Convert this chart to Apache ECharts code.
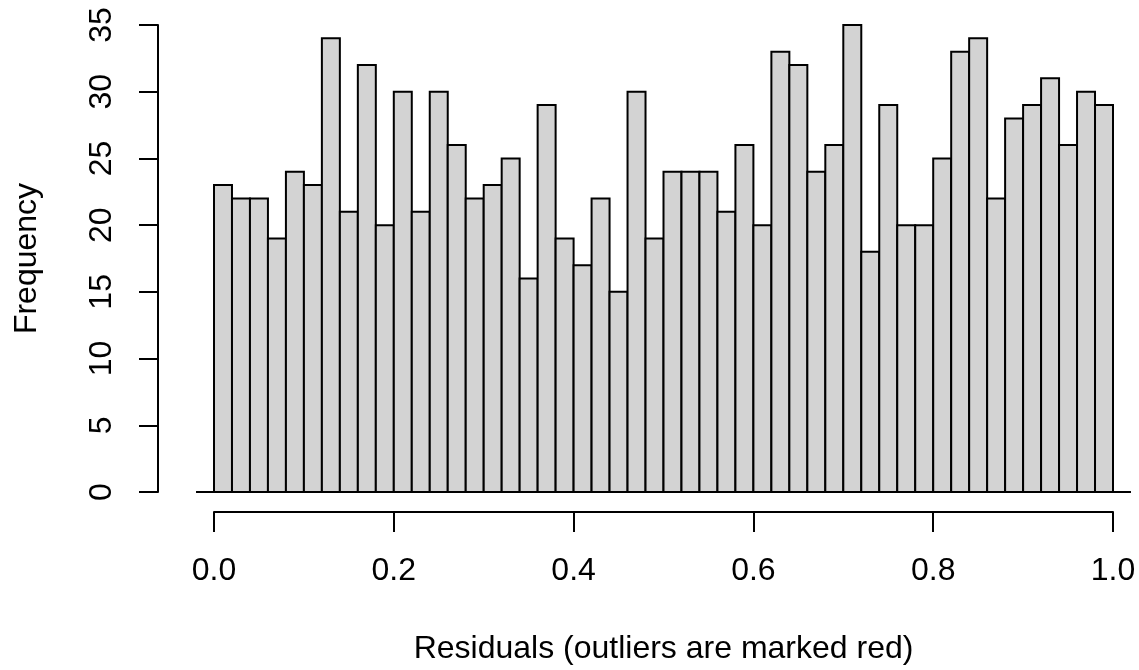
<!DOCTYPE html>
<html>
<head>
<meta charset="utf-8">
<script src="https://cdn.jsdelivr.net/npm/echarts@6/dist/echarts.min.js"></script>
<style>
html,body{margin:0;padding:0;background:#fff;}
#chart{width:1139px;height:670px;}
</style>
</head>
<body>
<div id="chart"></div>
<script>
// Histogram bins: 50 bins of width 0.02 on [0, 1]
const binWidth = 0.02;
const counts = [
  23, 22, 22, 19, 24, 23, 34, 21, 32, 20,
  30, 21, 30, 26, 22, 23, 25, 16, 29, 19,
  17, 22, 15, 30, 19, 24, 24, 24, 21, 26,
  20, 33, 32, 24, 26, 35, 18, 29, 20, 20,
  25, 33, 34, 22, 28, 29, 31, 26, 30, 29
];
const xTicks = [0, 0.2, 0.4, 0.6, 0.8, 1.0];
const yTicks = [0, 5, 10, 15, 20, 25, 30, 35];
const baselineRange = [-0.02, 1.02];
const xTitle = 'Residuals (outliers are marked red)';
const yTitle = 'Frequency';

const binData = counts.map((c, i) => [
  +(i * binWidth).toFixed(4), +((i + 1) * binWidth).toFixed(4), c
]);

const FONT = '"Liberation Sans", Arial, Helvetica, sans-serif';
const FS = 32;

const chart = echarts.init(document.getElementById('chart'), null, {renderer: 'canvas'});
chart.setOption({
  animation: false,
  backgroundColor: '#ffffff',
  grid: {left: 214, right: 26, top: 25, bottom: 173, containLabel: false},
  xAxis: {
    type: 'value',
    min: xTicks[0], max: xTicks[xTicks.length - 1], interval: 0.2,
    offset: 20,
    axisLine: {show: true, onZero: false, lineStyle: {color: '#000', width: 2}},
    axisTick: {show: true, length: 20, lineStyle: {color: '#000', width: 2}},
    splitLine: {show: false},
    axisLabel: {
      color: '#000', fontFamily: FONT, fontSize: FS, margin: 43,
      formatter: v => v.toFixed(1)
    },
    name: xTitle,
    nameLocation: 'middle',
    nameGap: 121,
    nameTextStyle: {color: '#000', fontFamily: FONT, fontSize: FS}
  },
  yAxis: {
    type: 'value',
    min: yTicks[0], max: yTicks[yTicks.length - 1], interval: 5,
    offset: 56,
    axisLine: {show: true, onZero: false, lineStyle: {color: '#000', width: 2}},
    axisTick: {show: true, length: 19, lineStyle: {color: '#000', width: 2}},
    splitLine: {show: false},
    axisLabel: {
      color: '#000', fontFamily: FONT, fontSize: FS, margin: 40, rotate: 90
    },
    name: yTitle,
    nameLocation: 'middle',
    nameRotate: 90,
    nameGap: 115,
    nameTextStyle: {color: '#000', fontFamily: FONT, fontSize: FS}
  },
  series: [
    {
      type: 'custom',
      clip: false,
      data: binData,
      encode: {x: [0, 1], y: 2},
      renderItem: function (params, api) {
        const p0 = api.coord([api.value(0), 0]);
        const p1 = api.coord([api.value(1), api.value(2)]);
        return {
          type: 'rect',
          shape: {x: p0[0], y: p1[1], width: p1[0] - p0[0], height: p0[1] - p1[1]},
          style: {fill: '#d3d3d3', stroke: '#000', lineWidth: 2}
        };
      }
    },
    {
      type: 'custom',
      clip: false,
      data: [baselineRange],
      renderItem: function (params, api) {
        const a = api.coord([api.value(0), 0]);
        const b = api.coord([api.value(1), 0]);
        return {
          type: 'line',
          shape: {x1: a[0], y1: a[1], x2: b[0], y2: b[1]},
          style: {stroke: '#000', lineWidth: 2}
        };
      }
    }
  ]
});
</script>
</body>
</html>
